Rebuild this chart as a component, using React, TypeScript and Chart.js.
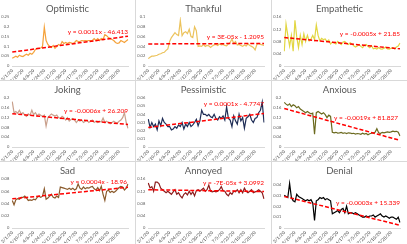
import React, { useEffect, useRef } from "react";
import { Chart, registerables } from "chart.js";
Chart.register(...registerables);

const DATES = [
  "3/1/20","3/4/20","3/7/20","3/10/20","3/13/20","3/16/20","3/19/20","3/22/20","3/25/20","3/28/20","3/31/20",
  "4/3/20","4/6/20","4/9/20","4/12/20","4/15/20","4/18/20","4/21/20","4/24/20","4/27/20","4/30/20",
  "5/3/20","5/6/20","5/9/20","5/12/20","5/15/20","5/18/20","5/21/20","5/24/20","5/27/20","5/30/20",
  "6/2/20","6/5/20","6/8/20","6/11/20","6/14/20","6/17/20","6/20/20","6/23/20","6/26/20","6/29/20",
  "7/2/20","7/5/20","7/8/20","7/11/20","7/14/20","7/17/20","7/20/20","7/23/20","7/26/20","7/29/20",
  "8/1/20","8/4/20","8/7/20","8/10/20","8/13/20","8/16/20","8/19/20","8/22/20","8/25/20","8/28/20","8/31/20",
  "9/3/20","9/6/20","9/9/20","9/12/20",
];

const OPTIMISTIC = [
  0.04,0.045,0.05,0.045,0.055,0.05,0.048,0.055,0.06,0.055,0.065,0.06,0.07,0.085,0.09,0.09,0.092,0.1,0.198,0.13,
  0.11,0.1,0.095,0.105,0.09,0.1,0.11,0.105,0.125,0.115,0.12,0.115,0.12,0.118,0.115,0.12,0.13,0.125,0.125,0.13,
  0.128,0.13,0.128,0.13,0.13,0.13,0.14,0.13,0.14,0.13,0.14,0.135,0.16,0.155,0.145,0.14,0.135,0.13,0.12,0.115,
  0.118,0.13,0.125,0.12,0.128,0.135,
];
const THANKFUL = [
  0.015,0.018,0.02,0.02,0.021,0.022,0.024,0.025,0.027,0.028,0.032,0.035,0.05,0.058,0.063,0.068,0.064,0.062,0.093,0.062,
  0.068,0.07,0.066,0.075,0.06,0.058,0.08,0.072,0.04,0.041,0.04,0.044,0.04,0.042,0.041,0.038,0.041,0.043,0.044,0.042,
  0.045,0.043,0.044,0.042,0.041,0.045,0.048,0.055,0.046,0.05,0.043,0.044,0.042,0.04,0.043,0.041,0.045,0.042,0.04,0.038,
  0.033,0.044,0.046,0.044,0.043,0.042,
];
const EMPATHETIC = [
  0.048,0.137,0.1,0.065,0.1,0.048,0.149,0.095,0.06,0.1,0.07,0.105,0.08,0.1,0.082,0.088,0.1,0.086,0.134,0.1,
  0.082,0.09,0.086,0.088,0.08,0.085,0.072,0.078,0.075,0.072,0.08,0.075,0.07,0.078,0.08,0.074,0.07,0.076,0.072,0.066,
  0.062,0.065,0.07,0.064,0.06,0.068,0.07,0.064,0.06,0.066,0.056,0.058,0.055,0.06,0.056,0.055,0.058,0.062,0.056,0.055,
  0.058,0.06,0.056,0.062,0.065,0.075,
];
const JOKING = [
  0.185,0.14,0.145,0.138,0.15,0.135,0.14,0.13,0.125,0.135,0.13,0.15,0.132,0.14,0.128,0.135,0.13,0.125,0.13,0.085,
  0.12,0.128,0.135,0.13,0.126,0.13,0.12,0.116,0.125,0.12,0.11,0.12,0.106,0.112,0.116,0.11,0.1,0.11,0.106,0.11,
  0.1,0.105,0.11,0.1,0.105,0.11,0.1,0.105,0.1,0.105,0.102,0.118,0.1,0.105,0.1,0.095,0.1,0.105,0.1,0.098,
  0.105,0.11,0.12,0.14,0.1,0.076,
];
const PESSIMISTIC = [
  0.034,0.024,0.03,0.025,0.028,0.021,0.032,0.026,0.035,0.03,0.028,0.025,0.025,0.021,0.022,0.025,0.023,0.027,0.025,0.03,
  0.022,0.028,0.025,0.03,0.025,0.027,0.03,0.034,0.026,0.032,0.045,0.04,0.04,0.038,0.04,0.037,0.036,0.04,0.035,0.033,
  0.037,0.035,0.038,0.033,0.049,0.035,0.033,0.025,0.038,0.032,0.028,0.04,0.032,0.036,0.023,0.035,0.037,0.04,0.033,0.03,
  0.035,0.036,0.042,0.045,0.055,0.03,
];
const ANXIOUS = [
  0.182,0.175,0.17,0.176,0.165,0.172,0.168,0.16,0.165,0.155,0.15,0.145,0.14,0.145,0.14,0.135,0.138,0.052,0.14,0.145,
  0.14,0.135,0.14,0.132,0.12,0.13,0.125,0.06,0.058,0.06,0.057,0.058,0.06,0.056,0.058,0.055,0.058,0.057,0.055,0.056,
  0.053,0.055,0.054,0.052,0.056,0.053,0.055,0.05,0.054,0.056,0.058,0.06,0.075,0.058,0.055,0.06,0.058,0.06,0.062,0.06,
  0.062,0.065,0.063,0.064,0.06,0.045,
];
const SAD = [
  0.045,0.038,0.046,0.048,0.047,0.05,0.05,0.052,0.049,0.045,0.046,0.045,0.047,0.046,0.05,0.052,0.05,0.052,0.064,0.047,
  0.049,0.052,0.055,0.05,0.049,0.052,0.05,0.067,0.066,0.065,0.064,0.063,0.065,0.063,0.065,0.062,0.064,0.072,0.065,0.063,
  0.067,0.064,0.066,0.065,0.067,0.068,0.064,0.062,0.066,0.061,0.068,0.055,0.045,0.06,0.062,0.058,0.06,0.058,0.06,0.063,
  0.066,0.068,0.067,0.062,0.065,0.072,
];
const ANNOYED = [
  0.147,0.131,0.135,0.12,0.15,0.15,0.145,0.13,0.125,0.12,0.115,0.12,0.115,0.11,0.118,0.125,0.11,0.115,0.105,0.098,
  0.11,0.115,0.108,0.12,0.11,0.118,0.105,0.122,0.125,0.12,0.125,0.13,0.12,0.125,0.14,0.12,0.118,0.12,0.118,0.12,
  0.125,0.135,0.122,0.12,0.11,0.105,0.115,0.11,0.12,0.118,0.125,0.115,0.125,0.115,0.13,0.12,0.115,0.12,0.125,0.115,
  0.118,0.12,0.125,0.12,0.115,0.095,
];
const DENIAL = [
  0.03,0.029,0.028,0.041,0.028,0.025,0.024,0.031,0.029,0.028,0.027,0.026,0.025,0.026,0.025,0.026,0.023,0.007,0.025,0.026,
  0.028,0.027,0.028,0.026,0.027,0.026,0.025,0.013,0.014,0.015,0.016,0.014,0.017,0.018,0.014,0.02,0.013,0.014,0.014,0.013,
  0.014,0.013,0.012,0.011,0.01,0.01,0.011,0.01,0.011,0.011,0.012,0.01,0.011,0.012,0.013,0.011,0.01,0.011,0.01,0.009,
  0.01,0.01,0.009,0.008,0.01,0.005,
];

const TITLES = ["Optimistic","Thankful","Empathetic","Joking","Pessimistic","Anxious","Sad","Annoyed","Denial"];
const SERIES = [OPTIMISTIC, THANKFUL, EMPATHETIC, JOKING, PESSIMISTIC, ANXIOUS, SAD, ANNOYED, DENIAL];
// trendline start / end values
const TREND_START = [0.071, 0.045, 0.093, 0.136, 0.024, 0.157, 0.0476, 0.125, 0.029];
const TREND_END = [0.152, 0.046, 0.056, 0.092, 0.041, 0.027, 0.0665, 0.119, 0.0025];
const EQUATIONS = [
  "y = 0.0011x - 46.413",
  "y = 3E-05x - 1.2095",
  "y = -0.0005x + 21.85",
  "y = -0.0006x + 26.209",
  "y = 0.0001x - 4.7747",
  "y = -0.0019x + 81.827",
  "y = 0.0004x - 18.96",
  "y = -7E-05x + 3.0992",
  "y = -0.0003x + 15.339",
];
const Y_MAX = [0.25, 0.1, 0.16, 0.2, 0.06, 0.2, 0.08, 0.16, 0.045];
const Y_STEP = [0.05, 0.01, 0.02, 0.02, 0.01, 0.02, 0.01, 0.02, 0.005];

// styling
const COLORS = ["#f5a23a","#ecc35c","#e2d642","#c9a08c","#1f2d56","#6b6a1f","#8a5a2b","#8b1c1c","#000000"];
const EQ_POS = [[128,32],[128,37],[128,34],[128,30],[128,23],[126,37],[127,20],[128,21],[128,41]];

function Panel({ idx, w, h }: { idx: number; w: number; h: number }) {
  const ref = useRef<HTMLCanvasElement>(null);
  useEffect(() => {
    const trend = DATES.map((_, i) => (i === 0 ? TREND_START[idx] : i === DATES.length - 1 ? TREND_END[idx] : null));
    const chart = new Chart(ref.current!, {
      type: "line",
      data: {
        labels: DATES,
        datasets: [
          { data: SERIES[idx], borderColor: COLORS[idx], borderWidth: 1.2, pointRadius: 0, tension: 0, order: 1 },
          { data: trend, borderColor: "#ff0000", borderWidth: 1.5, borderDash: [4, 2], pointRadius: 0, spanGaps: true, order: 0 },
        ],
      },
      options: {
        responsive: false,
        animation: false,
        events: [],
        layout: { padding: { top: 17, right: 7, left: 0, bottom: 0 } },
        plugins: { legend: { display: false }, tooltip: { enabled: false }, title: { display: false } },
        scales: {
          x: {
            grid: { display: false, drawTicks: false },
            border: { color: "#d9d9d9" },
            ticks: {
              autoSkip: false,
              minRotation: 45,
              maxRotation: 45,
              padding: 2,
              color: "#404040",
              font: { size: 4.5, family: "Lato" },
              callback: (_v: any, i: number) => (i % 6 === 0 ? DATES[i] : null),
            },
            afterFit: (s: any) => { s.height = h - 66; },
          },
          y: {
            min: 0,
            max: Y_MAX[idx],
            grid: { display: false, drawTicks: false },
            border: { display: false },
            ticks: {
              stepSize: Y_STEP[idx],
              padding: 3,
              color: "#595959",
              font: { size: 4, family: "Lato" },
              callback: (v: any) => String(Number(Number(v).toFixed(4))),
            },
            afterFit: (s: any) => { s.width = 12; },
          },
        },
      },
      plugins: [
        {
          id: "annot",
          afterDraw(c: any) {
            const ctx = c.ctx;
            ctx.save();
            ctx.font = "9.5px Lato";
            ctx.fillStyle = "#595959";
            ctx.textAlign = "center";
            ctx.textBaseline = "middle";
            ctx.fillText(TITLES[idx], w / 2, 9);
            ctx.font = "6.5px Lato";
            ctx.fillStyle = "#ff0000";
            ctx.textAlign = "right";
            ctx.fillText(EQUATIONS[idx], EQ_POS[idx][0], EQ_POS[idx][1]);
            ctx.restore();
          },
        },
      ],
    } as any);
    return () => chart.destroy();
  }, []);
  return <canvas ref={ref} width={w} height={h} style={{ display: "block", width: w, height: h }} />;
}

export default function App() {
  const cells = [];
  for (let r = 0; r < 3; r++) {
    for (let c = 0; c < 3; c++) {
      const idx = r * 3 + c;
      cells.push(
        <div key={idx} style={{ position: "absolute", left: c * 136, top: r * 81, width: 135, height: 81 }}>
          <Panel idx={idx} w={135} h={81} />
        </div>
      );
    }
  }
  const line = "#d9d9d9";
  return (
    <div style={{ position: "fixed", left: 0, top: 0, width: 407, height: 244, background: "#fff", overflow: "hidden" }}>
      {cells}
      <div style={{ position: "absolute", left: 135, top: 0, width: 1, height: 244, background: line }} />
      <div style={{ position: "absolute", left: 271, top: 0, width: 1, height: 244, background: line }} />
      <div style={{ position: "absolute", left: 0, top: 80, width: 407, height: 1, background: line }} />
      <div style={{ position: "absolute", left: 0, top: 161, width: 407, height: 1, background: line }} />
    </div>
  );
}
